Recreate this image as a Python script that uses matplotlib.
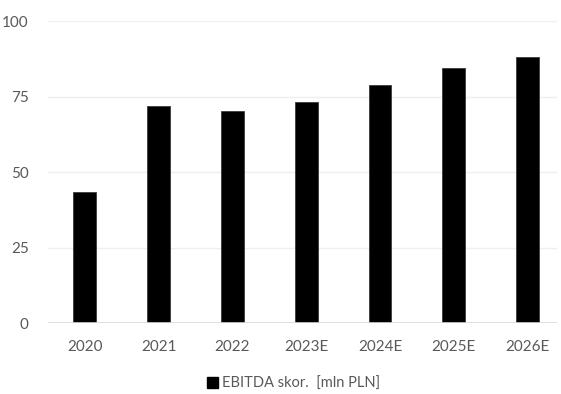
import matplotlib
matplotlib.use("Agg")
import matplotlib.pyplot as plt
from matplotlib.patches import Patch

categories = ["2020", "2021", "2022", "2023E", "2024E", "2025E", "2026E"]
ebitda = [43.4, 71.7, 70.2, 73.2, 78.9, 84.3, 88.0]
y_ticks = [0, 25, 50, 75, 100]
series_name = "EBITDA skor.  [mln PLN]"

plt.rcParams["font.family"] = ["Lato", "DejaVu Sans"]
text_color = "#595959"

fig = plt.figure(figsize=(5.61, 3.94), dpi=100)
ax = fig.add_axes([0.0856, 0.180, 0.9073, 0.7667])

x = list(range(len(categories)))
ax.bar(x, ebitda, width=0.31, color="black", edgecolor="#3a3a3a", linewidth=0.6, zorder=3)

ax.set_ylim(0, 100)
ax.set_xlim(-0.5, 6.4)
ax.set_yticks(y_ticks)
ax.set_xticks(x)
ax.set_xticklabels(categories)

for v in y_ticks[1:]:
    ax.axhline(v, color="#efefef", linewidth=1.0, zorder=1)
ax.axhline(0, color="#d9d9d9", linewidth=1.2, zorder=4)

for s in ax.spines.values():
    s.set_visible(False)
ax.tick_params(axis="both", length=0, labelsize=11, colors=text_color)
ax.tick_params(axis="x", pad=12)
ax.tick_params(axis="y", pad=14)

handle = Patch(facecolor="black", edgecolor="black")
fig.legend([handle], [series_name], loc="center", bbox_to_anchor=(0.523, 0.026),
           frameon=False, fontsize=10.5, labelcolor=text_color,
           handlelength=0.75, handleheight=0.75, handletextpad=0.3)

fig.savefig("out.png", dpi=100)
